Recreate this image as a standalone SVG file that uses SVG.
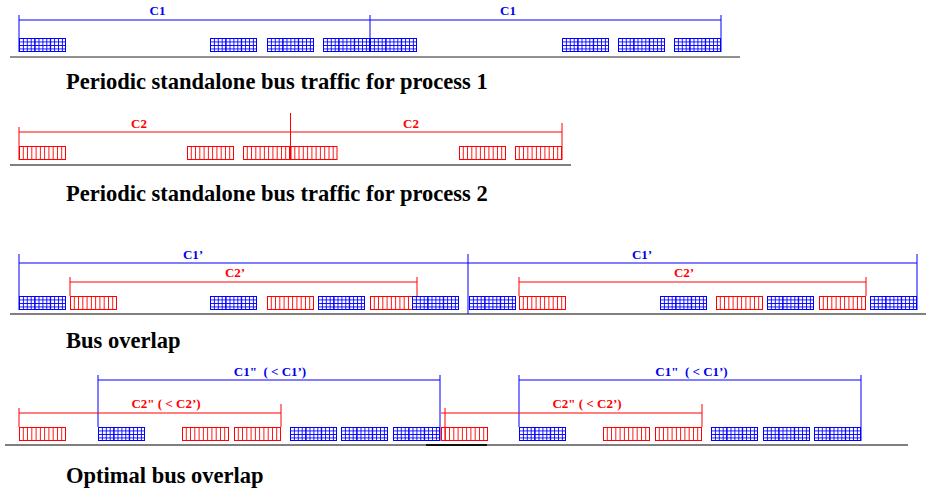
<svg xmlns="http://www.w3.org/2000/svg" xmlns:xlink="http://www.w3.org/1999/xlink" width="926" height="491" viewBox="0 0 926 491">
  <style>
    .title { font-family: "Liberation Serif", "Times New Roman", serif; font-weight: bold; font-size: 22.5px; fill: #000; }
    .lbl { font-family: "Liberation Serif", "Times New Roman", serif; font-weight: bold; font-size: 13px; text-anchor: middle; white-space: pre; }
    .lb { fill: #0000ee; }
    .lr { fill: #ff0000; }
    .br-blue { fill: none; stroke: #0000ff; stroke-width: 1; }
    .br-red { fill: none; stroke: #ff0000; stroke-width: 1; }
  </style>
  <defs>
    <!-- fine mesh used inside the process-1 (blue) bus slots -->
    <pattern id="meshBlue" patternUnits="userSpaceOnUse" width="3.9" height="3.5">
      <rect width="3.9" height="3.5" fill="#ffffff"/>
      <path d="M0 0.5H3.9M0.5 0V3.5" stroke="#0000ff" stroke-width="0.9"/>
    </pattern>
    <!-- bus slot of process 1 -->
    <g id="bb">
      <rect width="47" height="14" fill="url(#meshBlue)"/>
      <path d="M15.7 0V14M31.3 0V14" stroke="#0000ff" stroke-width="1"/>
      <rect x="0.5" y="0.5" width="46" height="13" fill="none" stroke="#0000ff" stroke-width="1"/>
    </g>
    <!-- bus slot of process 2 -->
    <g id="rb">
      <rect x="0.5" y="0.5" width="46" height="13" fill="#ffffff" stroke="#ff0000" stroke-width="1"/>
      <path d="M4.3 0V14M8.5 0V14M12.8 0V14M17.1 0V14M21.4 0V14M25.6 0V14M29.9 0V14M34.2 0V14M38.5 0V14M42.7 0V14" stroke="#ff0000" stroke-width="0.9"/>
    </g>
  </defs>

  <rect width="926" height="491" fill="#ffffff"/>

  <!-- Row 1: process 1 alone -->
  <g id="row1">
    <g id="row1-slots">
      <use href="#bb" x="19" y="38"/>
      <use href="#bb" x="210" y="38"/>
      <use href="#bb" x="267" y="38"/>
      <use href="#bb" x="323" y="38"/>
      <use href="#bb" x="370" y="38"/>
      <use href="#bb" x="562" y="38"/>
      <use href="#bb" x="618" y="38"/>
      <use href="#bb" x="674" y="38"/>
    </g>
    <path d="M10 57H740" stroke="#222" stroke-width="1.2"/>
    <g id="row1-brackets">
      <path class="br-blue" d="M19 15V52M19 20H721M370 15V52M721 15V52"/>
      <text class="lbl lb" x="157.5" y="15">C1</text>
      <text class="lbl lb" x="508" y="15">C1</text>
    </g>
    <text class="title" x="66" y="89">Periodic standalone bus traffic for process 1</text>
  </g>

  <!-- Row 2: process 2 alone -->
  <g id="row2">
    <g id="row2-slots">
      <use href="#rb" x="19" y="146"/>
      <use href="#rb" x="187" y="146"/>
      <use href="#rb" x="243" y="146"/>
      <use href="#rb" x="290.5" y="146"/>
      <use href="#rb" x="459" y="146"/>
      <use href="#rb" x="515" y="146"/>
    </g>
    <path d="M10 165H571" stroke="#808080" stroke-width="2"/>
    <g id="row2-brackets">
      <path class="br-red" d="M19 127V160M19 132H562M290.5 113V160M562 123V160"/>
      <text class="lbl lr" x="139" y="128">C2</text>
      <text class="lbl lr" x="411" y="128">C2</text>
    </g>
    <text class="title" x="66" y="201">Periodic standalone bus traffic for process 2</text>
  </g>

  <!-- Row 3: both processes sharing the bus -->
  <g id="row3">
    <g id="row3-slots">
      <use href="#bb" x="19" y="296"/>
      <use href="#rb" x="70" y="296"/>
      <use href="#bb" x="210" y="296"/>
      <use href="#rb" x="267" y="296"/>
      <use href="#bb" x="318" y="296"/>
      <use href="#rb" x="370" y="296"/>
      <use href="#bb" x="412" y="296"/>
      <use href="#bb" x="469" y="296"/>
      <use href="#rb" x="519" y="296"/>
      <use href="#bb" x="660" y="296"/>
      <use href="#rb" x="716" y="296"/>
      <use href="#bb" x="767" y="296"/>
      <use href="#rb" x="819" y="296"/>
      <use href="#bb" x="870" y="296"/>
    </g>
    <path d="M10 314H926" stroke="#555" stroke-width="1.5"/>
    <g id="row3-brackets">
      <path class="br-blue" d="M19 254V310M19 263H917M468 254V314M917 254V310"/>
      <path class="br-red" d="M70 277V296M70 282H417M417 277V296M519 277V296M519 282H866M866 277V296"/>
      <text class="lbl lb" x="193" y="259">C1’</text>
      <text class="lbl lb" x="642" y="259">C1’</text>
      <text class="lbl lr" x="235" y="277">C2’</text>
      <text class="lbl lr" x="684" y="277">C2’</text>
    </g>
    <text class="title" x="66" y="348">Bus overlap</text>
  </g>

  <!-- Row 4: interleaved schedule with shorter periods -->
  <g id="row4">
    <g id="row4-slots">
      <use href="#rb" x="19" y="427"/>
      <use href="#bb" x="98" y="427"/>
      <use href="#rb" x="182" y="427"/>
      <use href="#rb" x="234" y="427"/>
      <use href="#bb" x="290" y="427"/>
      <use href="#bb" x="341" y="427"/>
      <use href="#bb" x="393" y="427"/>
      <use href="#rb" x="441" y="427"/>
      <use href="#bb" x="519" y="427"/>
      <use href="#rb" x="603" y="427"/>
      <use href="#rb" x="655" y="427"/>
      <use href="#bb" x="711" y="427"/>
      <use href="#bb" x="763" y="427"/>
      <use href="#bb" x="814" y="427"/>
    </g>
    <path d="M5 445H908" stroke="#555" stroke-width="1.5"/>
    <path d="M426 445H487" stroke="#111" stroke-width="2"/>
    <g id="row4-brackets">
      <path class="br-blue" d="M98 375V427M98 380H440M440 375V441M519 375V427M519 380H861M861 375V441"/>
      <path class="br-red" d="M19 408V427M19 413H281M281 404V427M445 408V441M441 413H702M702 404V427"/>
      <text class="lbl lb" x="270" y="376">C1"  ( &lt; C1’)</text>
      <text class="lbl lb" x="691.5" y="376">C1"  ( &lt; C1’)</text>
      <text class="lbl lr" x="166" y="408">C2" ( &lt; C2’)</text>
      <text class="lbl lr" x="587" y="408">C2" ( &lt; C2’)</text>
    </g>
    <text class="title" x="66" y="483">Optimal bus overlap</text>
  </g>
</svg>
